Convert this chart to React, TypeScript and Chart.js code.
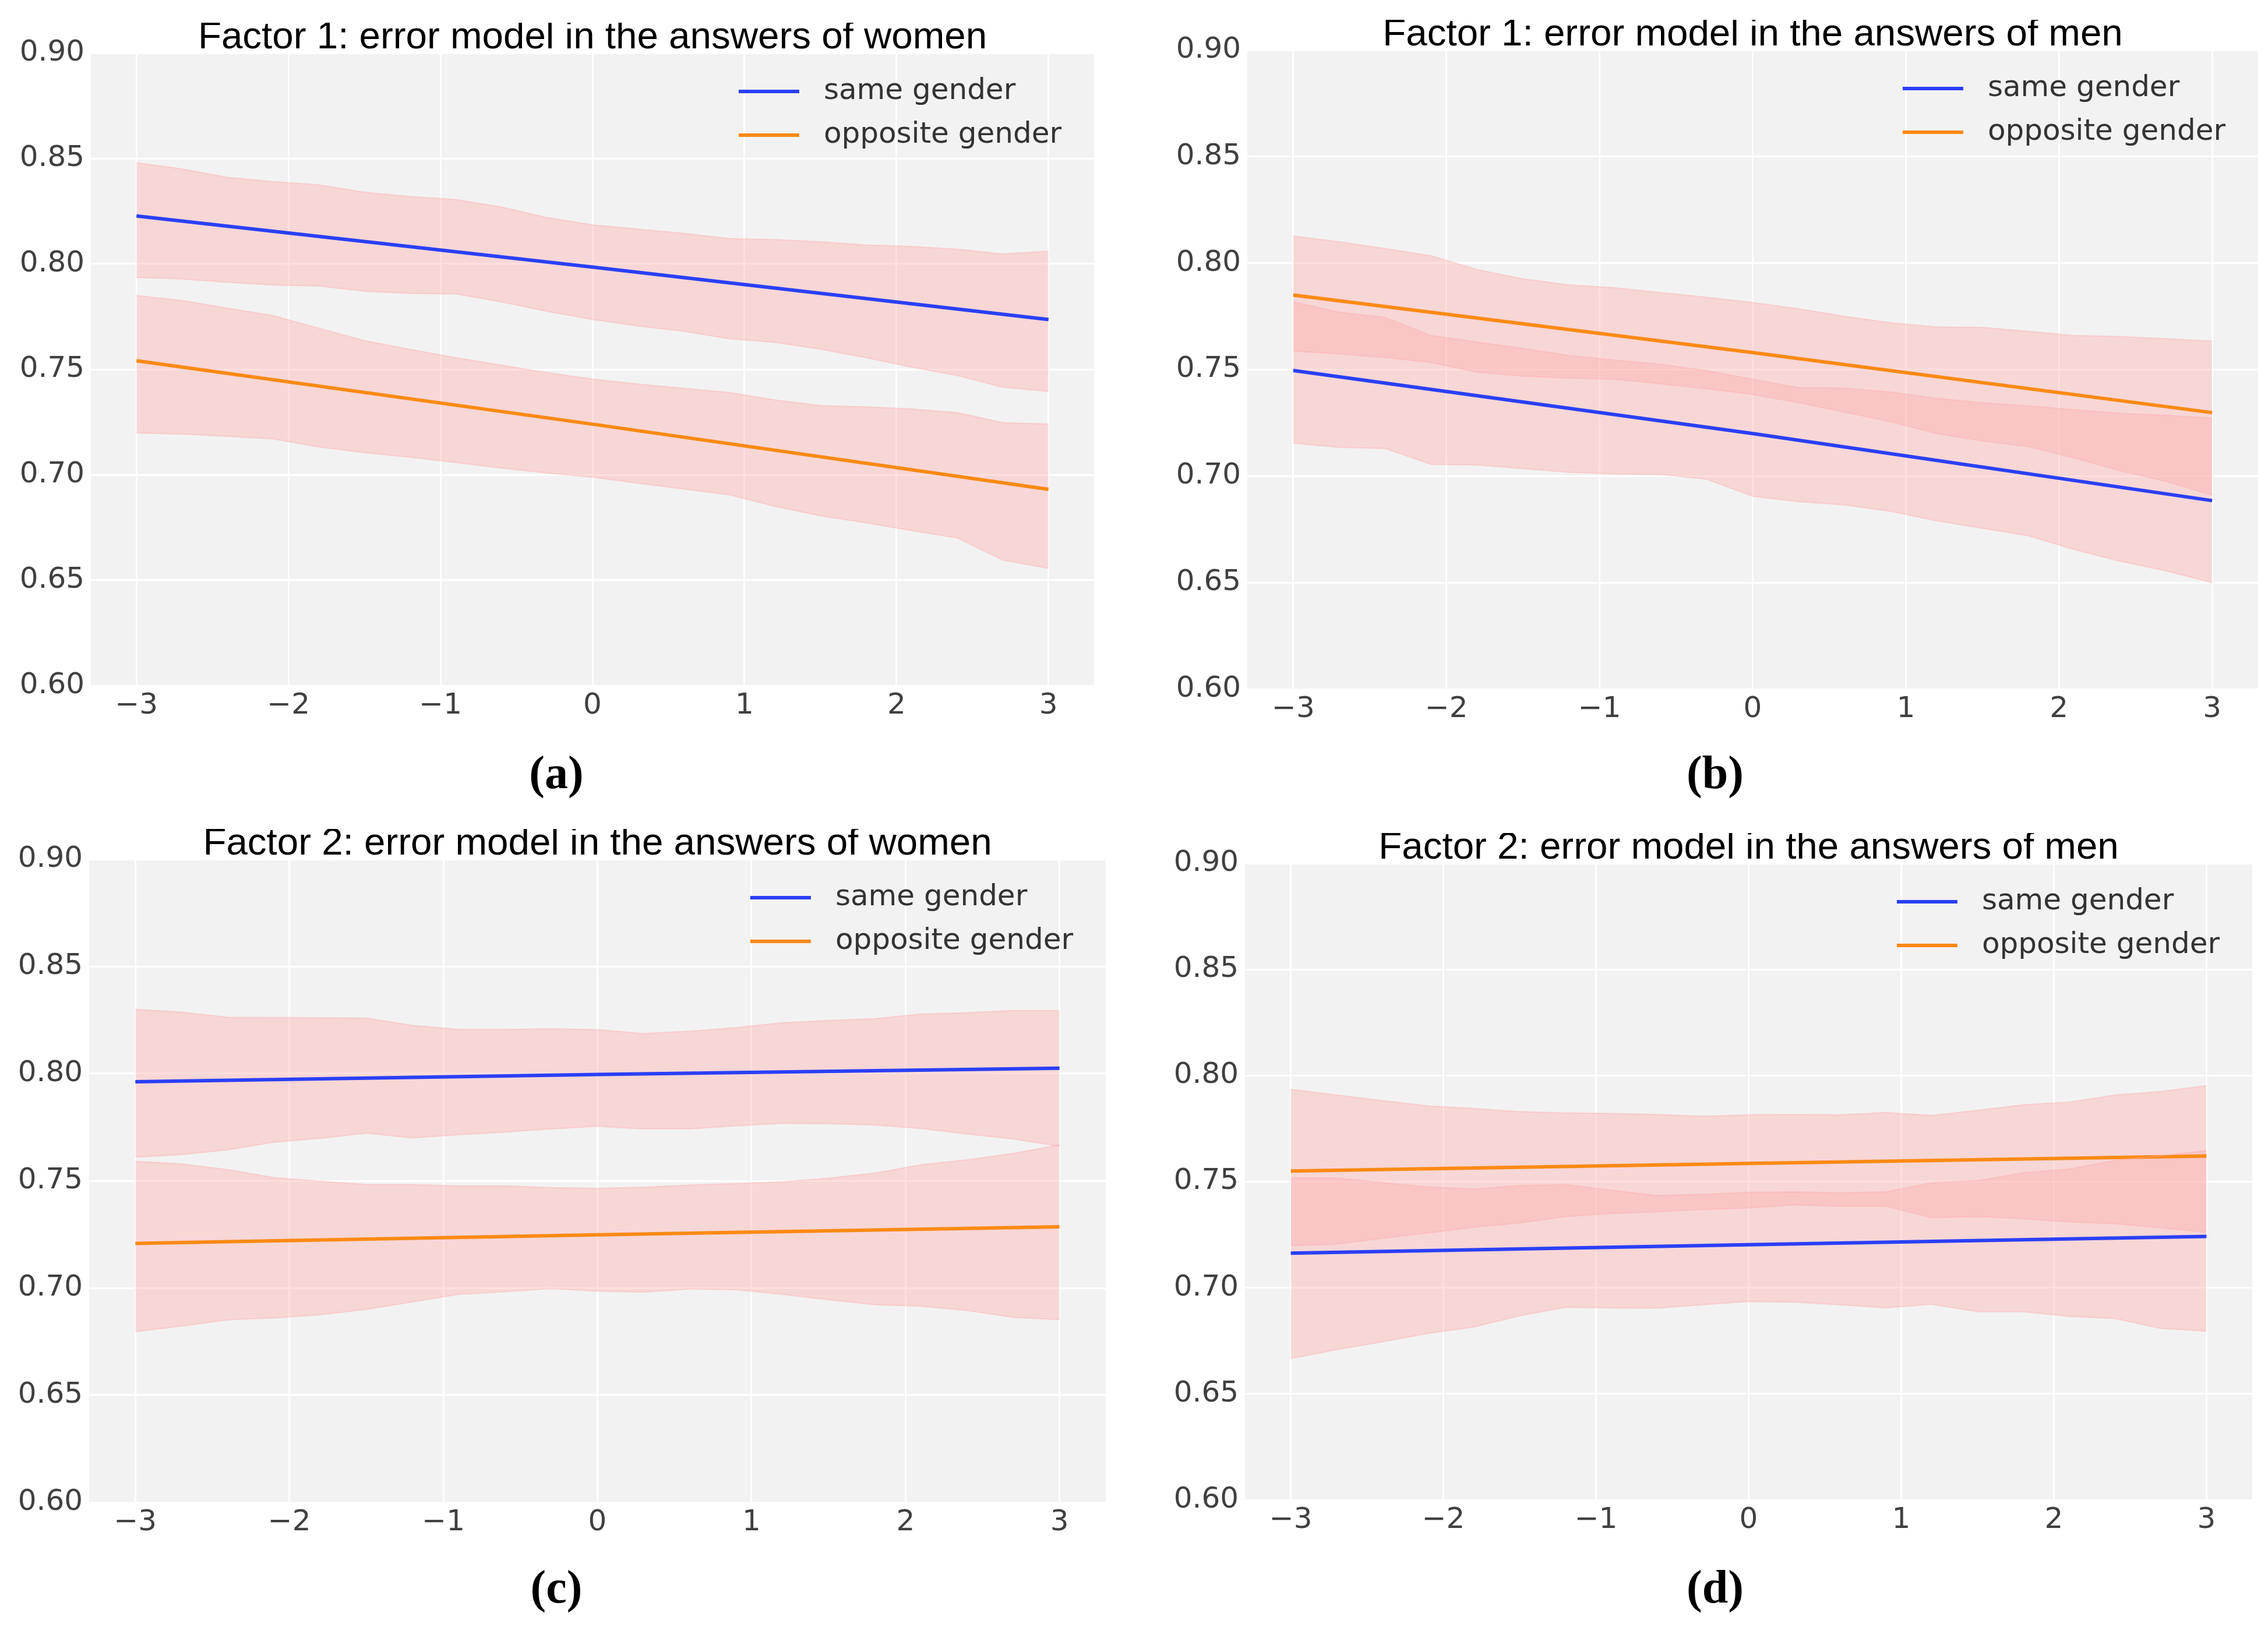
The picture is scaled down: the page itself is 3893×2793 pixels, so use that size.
import React, { useEffect, useRef } from "react";
import { Chart, registerables } from "chart.js";

Chart.register(...registerables);

// ---------- data ----------
const X_GRID = [-3, -2.7, -2.4, -2.1, -1.8, -1.5, -1.2, -0.9, -0.6, -0.3, 0, 0.3, 0.6, 0.9, 1.2, 1.5, 1.8, 2.1, 2.4, 2.7, 3];
const LINE_X = [-3, 0, 3];
const X_TICKS = [-3, -2, -1, 0, 1, 2, 3];
const Y_TICKS = [0.6, 0.65, 0.7, 0.75, 0.8, 0.85, 0.9];
const SERIES_LABELS = ["same gender", "opposite gender"];
const TITLES = [
  "Factor 1: error model in the answers of women",
  "Factor 1: error model in the answers of men",
  "Factor 2: error model in the answers of women",
  "Factor 2: error model in the answers of men",
];
const CAPTIONS = ["(a)", "(b)", "(c)", "(d)"];

// Panel (a)
const A_SAME_LINE = [0.8227, 0.7985, 0.7736];
const A_OPP_LINE = [0.7541, 0.724, 0.6931];
const A_SAME_UPPER = [0.848, 0.845, 0.841, 0.839, 0.8375, 0.834, 0.832, 0.8305, 0.827, 0.822, 0.8185, 0.8165, 0.8145, 0.812, 0.8115, 0.8105, 0.809, 0.8083, 0.807, 0.8047, 0.806];
const A_SAME_LOWER = [0.7936, 0.7928, 0.7912, 0.79, 0.7895, 0.787, 0.786, 0.7858, 0.782, 0.7775, 0.7736, 0.7705, 0.768, 0.7645, 0.7628, 0.7595, 0.7555, 0.751, 0.747, 0.7415, 0.7395];
const A_OPP_UPPER = [0.785, 0.7827, 0.779, 0.7755, 0.7695, 0.7636, 0.7595, 0.7555, 0.752, 0.7485, 0.7454, 0.743, 0.741, 0.739, 0.7355, 0.7328, 0.7322, 0.7312, 0.7295, 0.7247, 0.724];
const A_OPP_LOWER = [0.7198, 0.7193, 0.7182, 0.717, 0.7132, 0.7105, 0.7083, 0.7058, 0.7032, 0.7008, 0.6988, 0.696, 0.6932, 0.6905, 0.685, 0.6805, 0.6772, 0.6735, 0.67, 0.6595, 0.6556];

// Panel (b)
const B_SAME_LINE = [0.7496, 0.72, 0.6885];
const B_OPP_LINE = [0.785, 0.758, 0.7298];
const B_SAME_UPPER = [0.7818, 0.777, 0.7745, 0.766, 0.763, 0.76, 0.7567, 0.7545, 0.7525, 0.7495, 0.7455, 0.7415, 0.7413, 0.7395, 0.7365, 0.7345, 0.733, 0.7312, 0.7295, 0.7285, 0.7273];
const B_SAME_LOWER = [0.7155, 0.7135, 0.713, 0.7055, 0.7052, 0.7035, 0.7018, 0.701, 0.7008, 0.6985, 0.6905, 0.688, 0.6865, 0.6835, 0.679, 0.6755, 0.672, 0.6655, 0.66, 0.6555, 0.65];
const B_OPP_UPPER = [0.8127, 0.81, 0.8068, 0.8035, 0.797, 0.7926, 0.7898, 0.7884, 0.7862, 0.784, 0.7815, 0.7786, 0.775, 0.772, 0.77, 0.7698, 0.768, 0.766, 0.7655, 0.7645, 0.7634];
const B_OPP_LOWER = [0.7587, 0.7573, 0.7557, 0.7533, 0.7488, 0.7469, 0.746, 0.7454, 0.7433, 0.741, 0.7383, 0.7345, 0.73, 0.7255, 0.72, 0.7165, 0.7138, 0.7085, 0.7025, 0.6975, 0.691];

// Panel (c)
const C_SAME_LINE = [0.7962, 0.7996, 0.8025];
const C_OPP_LINE = [0.7208, 0.7248, 0.7285];
const C_SAME_UPPER = [0.83, 0.8287, 0.8263, 0.8262, 0.8261, 0.8259, 0.8225, 0.8206, 0.8206, 0.8209, 0.8205, 0.8187, 0.8198, 0.8215, 0.8237, 0.8248, 0.8256, 0.8278, 0.8284, 0.8294, 0.8294];
const C_SAME_LOWER = [0.761, 0.7622, 0.7644, 0.768, 0.7698, 0.7722, 0.77, 0.7715, 0.7727, 0.7742, 0.7754, 0.7742, 0.7742, 0.7756, 0.7768, 0.7766, 0.776, 0.7744, 0.7718, 0.7695, 0.7661];
const C_OPP_UPPER = [0.7591, 0.7579, 0.7552, 0.7515, 0.7498, 0.7483, 0.7482, 0.7476, 0.7476, 0.7468, 0.7465, 0.747, 0.748, 0.7487, 0.7495, 0.7512, 0.7536, 0.7575, 0.7598, 0.7628, 0.7668];
const C_OPP_LOWER = [0.6796, 0.6822, 0.6851, 0.686, 0.6875, 0.69, 0.6935, 0.697, 0.6982, 0.6997, 0.6985, 0.698, 0.6995, 0.6992, 0.697, 0.6945, 0.6922, 0.6915, 0.6895, 0.6863, 0.6852];

// Panel (d)
const D_SAME_LINE = [0.7163, 0.7203, 0.7242];
const D_OPP_LINE = [0.755, 0.7586, 0.7621];
const D_SAME_UPPER = [0.7518, 0.7518, 0.7496, 0.7475, 0.7465, 0.7482, 0.7486, 0.746, 0.7435, 0.744, 0.745, 0.7452, 0.7448, 0.7452, 0.7495, 0.7505, 0.7542, 0.756, 0.76, 0.7622, 0.7646];
const D_SAME_LOWER = [0.6666, 0.6708, 0.6745, 0.6785, 0.6815, 0.6868, 0.6908, 0.6905, 0.6904, 0.692, 0.6935, 0.6932, 0.692, 0.6905, 0.6922, 0.6887, 0.6887, 0.6865, 0.6855, 0.6808, 0.6796];
const D_OPP_UPPER = [0.7935, 0.7908, 0.7882, 0.7857, 0.7845, 0.783, 0.7824, 0.7822, 0.7816, 0.7808, 0.7815, 0.7816, 0.7815, 0.7826, 0.7812, 0.7836, 0.7862, 0.7875, 0.7908, 0.7925, 0.7952];
const D_OPP_LOWER = [0.7198, 0.7205, 0.7233, 0.7258, 0.7285, 0.7305, 0.7335, 0.735, 0.7358, 0.7368, 0.7376, 0.739, 0.7384, 0.7384, 0.733, 0.7335, 0.7325, 0.731, 0.7302, 0.7282, 0.7261];

// ---------- styles ----------
const BLUE = "#2a3ff5";
const ORANGE = "#fb8a14";
const BAND_FILL = "rgba(255, 172, 172, 0.4)";
const BAND_EDGE = "rgba(255, 172, 172, 0.4)";
const PLOT_BG = "#f2f2f2";
const TICK_COLOR = "#404040";
const LEGEND_COLOR = "#333333";

const Y_AXIS_W = 150;
const TITLE_H = 52;
const X_AXIS_H = 80;
const PAD_R = 30;

type PanelData = {
  sameLine: number[];
  oppLine: number[];
  sameUpper: number[];
  sameLower: number[];
  oppUpper: number[];
  oppLower: number[];
};

const PANEL_DATA: PanelData[] = [
  { sameLine: A_SAME_LINE, oppLine: A_OPP_LINE, sameUpper: A_SAME_UPPER, sameLower: A_SAME_LOWER, oppUpper: A_OPP_UPPER, oppLower: A_OPP_LOWER },
  { sameLine: B_SAME_LINE, oppLine: B_OPP_LINE, sameUpper: B_SAME_UPPER, sameLower: B_SAME_LOWER, oppUpper: B_OPP_UPPER, oppLower: B_OPP_LOWER },
  { sameLine: C_SAME_LINE, oppLine: C_OPP_LINE, sameUpper: C_SAME_UPPER, sameLower: C_SAME_LOWER, oppUpper: C_OPP_UPPER, oppLower: C_OPP_LOWER },
  { sameLine: D_SAME_LINE, oppLine: D_OPP_LINE, sameUpper: D_SAME_UPPER, sameLower: D_SAME_LOWER, oppUpper: D_OPP_UPPER, oppLower: D_OPP_LOWER },
];

// plot-area rectangles (page pixels) and caption centres
const LAYOUT = [
  { L: 156, R: 1878, T: 91, B: 1177, cx: 955, cy: 1333 },
  { L: 2141, R: 3876, T: 86, B: 1183, cx: 2944, cy: 1333 },
  { L: 153, R: 1898, T: 1475, B: 2579, cx: 955, cy: 2731 },
  { L: 2137, R: 3866, T: 1482, B: 2575, cx: 2944, cy: 2731 },
];

const pts = (xs: number[], ys: number[]) => xs.map((x, i) => ({ x, y: ys[i] }));

const fmtX = (v: number) => (v < 0 ? "\u2212" + Math.abs(v) : String(v));

const bgPlugin = {
  id: "plotBg",
  beforeDraw(chart: any) {
    const { ctx, chartArea } = chart;
    ctx.save();
    ctx.fillStyle = PLOT_BG;
    ctx.fillRect(chartArea.left, chartArea.top, chartArea.right - chartArea.left, chartArea.bottom - chartArea.top);
    ctx.restore();
  },
};

const legendPlugin = {
  id: "innerLegend",
  afterDatasetsDraw(chart: any) {
    const { ctx, chartArea } = chart;
    const colors = [BLUE, ORANGE];
    ctx.save();
    ctx.font = "50px 'DejaVu Sans'";
    const maxW = Math.max(...SERIES_LABELS.map((s) => ctx.measureText(s).width));
    const textX = chartArea.right - 56 - maxW;
    SERIES_LABELS.forEach((label, i) => {
      const y = chartArea.top + 66 + i * 75;
      ctx.strokeStyle = colors[i];
      ctx.lineWidth = 6;
      ctx.beginPath();
      ctx.moveTo(textX - 146, y);
      ctx.lineTo(textX - 42, y);
      ctx.stroke();
      ctx.fillStyle = LEGEND_COLOR;
      ctx.textAlign = "left";
      ctx.textBaseline = "middle";
      ctx.fillText(label, textX, y);
    });
    ctx.restore();
  },
};

function Panel({ idx }: { idx: number }) {
  const ref = useRef<HTMLCanvasElement | null>(null);
  const lay = LAYOUT[idx];
  const left = lay.L - Y_AXIS_W;
  const top = lay.T - TITLE_H;
  const width = lay.R - lay.L + Y_AXIS_W + PAD_R;
  const height = lay.B - lay.T + TITLE_H + X_AXIS_H;

  useEffect(() => {
    if (!ref.current) return;
    const d = PANEL_DATA[idx];
    const band = (ys: number[], fill: any) => ({
      data: pts(X_GRID, ys),
      borderColor: BAND_EDGE,
      borderWidth: 2,
      backgroundColor: BAND_FILL,
      fill,
      pointRadius: 0,
      tension: 0,
    });
    const line = (ys: number[], color: string, label: string) => ({
      label,
      data: pts(LINE_X, ys),
      borderColor: color,
      borderWidth: 6,
      fill: false,
      pointRadius: 0,
      tension: 0,
    });
    const chart = new Chart(ref.current, {
      type: "line",
      data: {
        datasets: [
          band(d.sameUpper, "+1"),
          band(d.sameLower, false),
          band(d.oppUpper, "+1"),
          band(d.oppLower, false),
          line(d.sameLine, BLUE, SERIES_LABELS[0]),
          line(d.oppLine, ORANGE, SERIES_LABELS[1]),
        ] as any,
      },
      options: {
        animation: false,
        responsive: false,
        devicePixelRatio: 1,
        events: [],
        layout: { padding: { left: 0, top: 0, right: PAD_R, bottom: 0 } },
        scales: {
          x: {
            type: "linear",
            min: -3.3,
            max: 3.3,
            afterFit: (s: any) => {
              s.height = X_AXIS_H;
            },
            afterBuildTicks: (s: any) => {
              s.ticks = X_TICKS.map((v) => ({ value: v }));
            },
            grid: { color: "#ffffff", lineWidth: 3, drawTicks: false },
            border: { display: false },
            ticks: {
              padding: 5,
              color: TICK_COLOR,
              font: { family: "'DejaVu Sans'", size: 50 },
              maxRotation: 0,
              autoSkip: false,
              callback: (v: any) => fmtX(Number(v)),
            },
          },
          y: {
            type: "linear",
            min: 0.6,
            max: 0.9,
            afterFit: (s: any) => {
              s.width = Y_AXIS_W;
            },
            afterBuildTicks: (s: any) => {
              s.ticks = Y_TICKS.map((v) => ({ value: v }));
            },
            grid: { color: "#ffffff", lineWidth: 3, drawTicks: false },
            border: { display: false },
            ticks: {
              padding: 11,
              color: TICK_COLOR,
              font: { family: "'DejaVu Sans'", size: 50 },
              autoSkip: false,
              callback: (v: any) => Number(v).toFixed(2),
            },
          },
        },
        plugins: {
          legend: { display: false },
          tooltip: { enabled: false },
          filler: { propagate: false, drawTime: "beforeDatasetsDraw" },
          title: {
            display: true,
            text: TITLES[idx],
            color: "#000000",
            fullSize: false,
            align: "center",
            font: { family: "'Liberation Sans'", size: 65.5, weight: "normal", lineHeight: 52 / 65.5 },
            padding: { top: 0, bottom: 0 },
          },
        } as any,
      } as any,
      plugins: [bgPlugin, legendPlugin],
    });
    return () => chart.destroy();
  }, [idx]);

  return (
    <>
      <canvas
        ref={ref}
        width={width}
        height={height}
        style={{ position: "absolute", left, top, width, height }}
      />
      <div
        style={{
          position: "absolute",
          left: lay.cx - 200,
          top: lay.cy - 57,
          width: 400,
          height: 100,
          lineHeight: "100px",
          textAlign: "center",
          fontFamily: "'Liberation Serif', serif",
          fontWeight: "bold",
          fontSize: 80,
          color: "#000",
        }}
      >
        {CAPTIONS[idx]}
      </div>
    </>
  );
}

export default function App() {
  return (
    <div
      style={{
        position: "absolute",
        left: 0,
        top: 0,
        width: 3893,
        height: 2793,
        overflow: "hidden",
        background: "#ffffff",
      }}
    >
      {[0, 1, 2, 3].map((i) => (
        <Panel key={i} idx={i} />
      ))}
    </div>
  );
}
